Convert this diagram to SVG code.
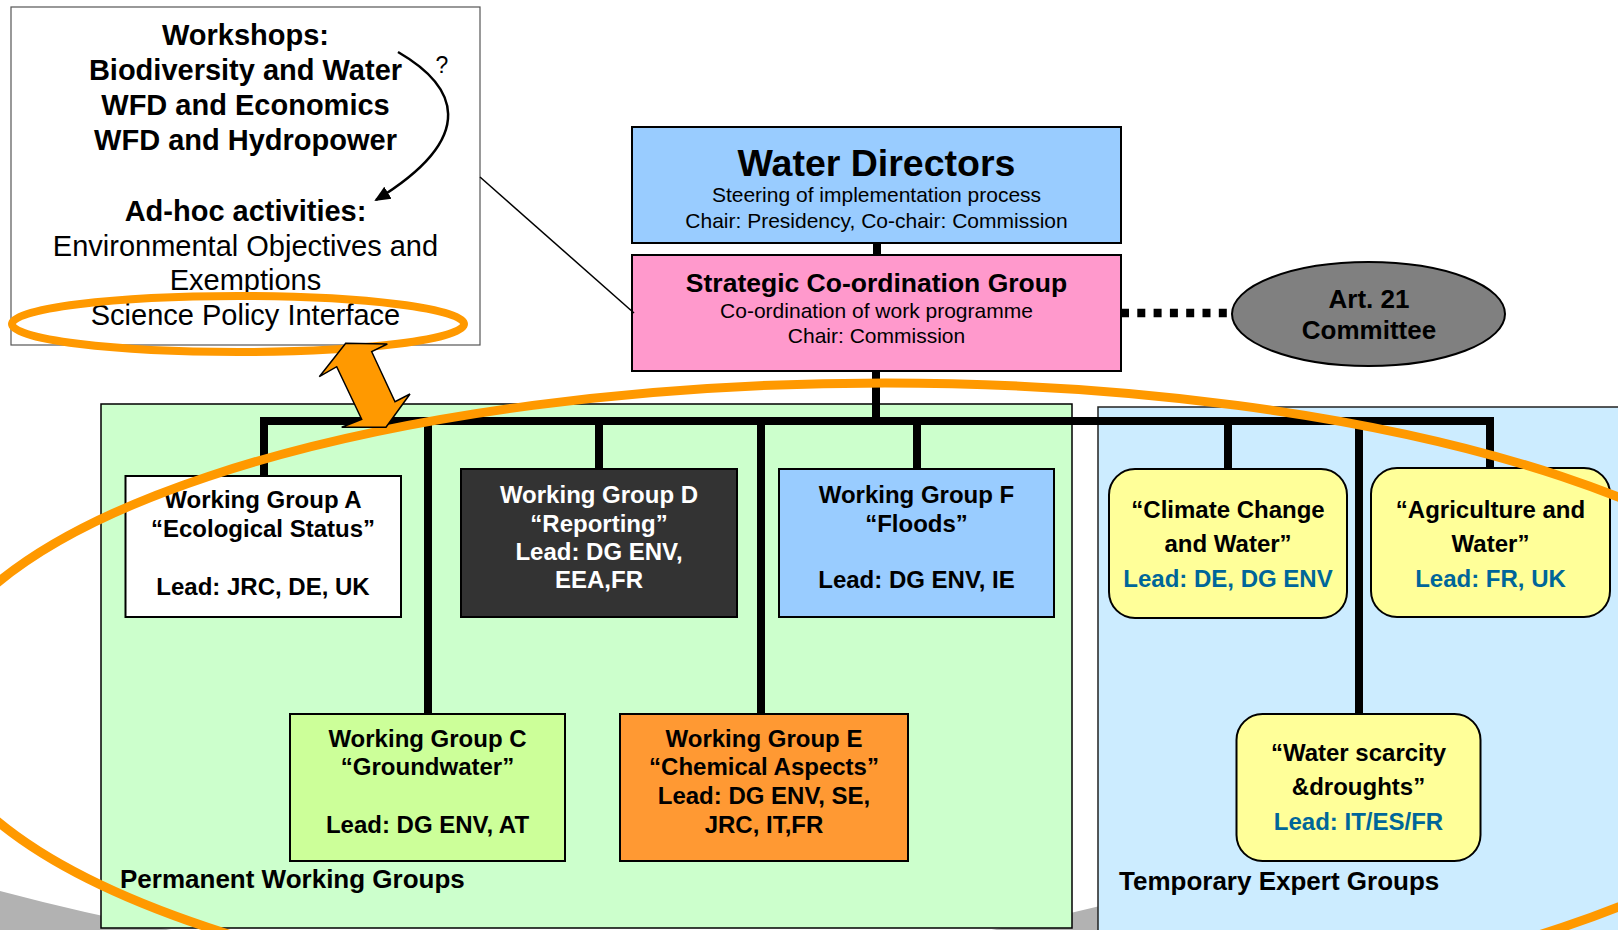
<svg xmlns="http://www.w3.org/2000/svg" width="1618" height="930" viewBox="0 0 1618 930">
<defs>
<style>
text{font-family:"Liberation Sans",Arial,sans-serif;text-anchor:middle;fill:#000}
.b{font-weight:bold}
.w29{font-size:29px}
.wg{font-size:24px;font-weight:bold}
.lead{fill:#006699}
.box{stroke:#000;stroke-width:2}
.conn{stroke:#000;stroke-width:8;fill:none}
.orange{fill:none;stroke:#FF9900}
</style>
<marker id="ah" markerWidth="16" markerHeight="16" refX="14" refY="8" orient="auto" markerUnits="userSpaceOnUse" viewBox="0 0 16 16">
<path d="M0,1 L16,8 L0,15 Z" fill="#000"/>
</marker>
</defs>
<rect width="1618" height="930" fill="#fff"/>
<path d="M0,891 Q560,1040 1100,906 L1618,880 V930 H0 Z" fill="#B2B2B2"/>

<g id="workshops">
<rect x="11" y="7" width="469" height="338" fill="#fff" stroke="#555" stroke-width="1.2"/>
<text class="w29 b" x="245.5" y="45">Workshops:</text>
<text class="w29 b" x="245.5" y="80">Biodiversity and Water</text>
<text class="w29 b" x="245.5" y="115">WFD and Economics</text>
<text class="w29 b" x="245.5" y="150">WFD and Hydropower</text>
<text class="w29 b" x="245.5" y="221">Ad-hoc activities:</text>
<text class="w29" x="245.5" y="256">Environmental Objectives and</text>
<text class="w29" x="245.5" y="290">Exemptions</text>
<text class="w29" x="245.5" y="325">Science Policy Interface</text>
<path d="M398,52 C455,85 482,135 376,200" fill="none" stroke="#000" stroke-width="2.5" marker-end="url(#ah)"/>
<text x="442" y="73" style="font-size:23px">?</text>
</g>

<g id="water-directors">
<rect class="box" x="632" y="127" width="489" height="116" fill="#99CCFF"/>
<text class="b" x="876.5" y="176" style="font-size:37.5px">Water Directors</text>
<text x="876.5" y="202" style="font-size:21px">Steering of implementation process</text>
<text x="876.5" y="228" style="font-size:21px">Chair: Presidency, Co-chair: Commission</text>
</g>

<g id="strategic-group">
<rect class="box" x="632" y="255" width="489" height="116" fill="#FF99CC"/>
<text class="b" x="876.5" y="292" style="font-size:26.5px">Strategic Co-ordination Group</text>
<text x="876.5" y="318" style="font-size:21px">Co-ordination of work programme</text>
<text x="876.5" y="343" style="font-size:21px">Chair: Commission</text>
</g>

<g id="art21">
<ellipse cx="1368.5" cy="314" rx="136.5" ry="52" fill="#808080" stroke="#000" stroke-width="2"/>
<text class="b" x="1369" y="308" style="font-size:26px">Art. 21</text>
<text class="b" x="1369" y="339" style="font-size:26px">Committee</text>
</g>

<g id="permanent-area">
<rect x="101" y="404" width="971" height="524" fill="#CCFFCC" stroke="#000" stroke-width="1.5"/>
<text class="b" x="120" y="888" style="font-size:26px;text-anchor:start">Permanent Working Groups</text>
</g>
<g id="temporary-area">
<rect x="1098" y="407" width="540" height="540" fill="#CCECFF" stroke="#222" stroke-width="1.5"/>
<text class="b" x="1119" y="890" style="font-size:26px;text-anchor:start">Temporary Expert Groups</text>
</g>

<g id="connectors">
<line x1="634" y1="313" x2="480" y2="177" stroke="#000" stroke-width="1.5"/>
<line x1="1121" y1="313" x2="1227" y2="313" stroke="#000" stroke-width="8.5" stroke-dasharray="8 8.3"/>
<line class="conn" x1="877" y1="243" x2="877" y2="255"/>
<line class="conn" x1="876" y1="371" x2="876" y2="421"/>
<polyline class="conn" points="264,476 264,421 1490,421 1490,469"/>
<line class="conn" x1="428" y1="421" x2="428" y2="714"/>
<line class="conn" x1="599" y1="421" x2="599" y2="469"/>
<line class="conn" x1="761" y1="421" x2="761" y2="714"/>
<line class="conn" x1="917" y1="421" x2="917" y2="469"/>
<line class="conn" x1="1228" y1="421" x2="1228" y2="469"/>
<line class="conn" x1="1359" y1="421" x2="1359" y2="714"/>
</g>

<g id="wg-a">
<rect class="box" x="125.5" y="476" width="275.5" height="141" fill="#fff"/>
<text class="wg" x="263" y="508">Working Group A</text>
<text class="wg" x="263" y="537">“Ecological Status”</text>
<text class="wg" x="263" y="595">Lead: JRC, DE, UK</text>
</g>
<g id="wg-d">
<rect class="box" x="461" y="469" width="276" height="148" fill="#333333"/>
<text class="wg" x="599" y="503" style="fill:#fff">Working Group D</text>
<text class="wg" x="599" y="532" style="fill:#fff">“Reporting”</text>
<text class="wg" x="599" y="560" style="fill:#fff">Lead: DG ENV,</text>
<text class="wg" x="599" y="588" style="fill:#fff">EEA,FR</text>
</g>
<g id="wg-f">
<rect class="box" x="779" y="469" width="275" height="148" fill="#99CCFF"/>
<text class="wg" x="916.5" y="503">Working Group F</text>
<text class="wg" x="916.5" y="532">“Floods”</text>
<text class="wg" x="916.5" y="588">Lead: DG ENV, IE</text>
</g>
<g id="wg-c">
<rect class="box" x="290" y="714" width="275" height="147" fill="#CCFF99"/>
<text class="wg" x="427.5" y="747">Working Group C</text>
<text class="wg" x="427.5" y="775">“Groundwater”</text>
<text class="wg" x="427.5" y="833">Lead: DG ENV, AT</text>
</g>
<g id="wg-e">
<rect class="box" x="620" y="714" width="288" height="147" fill="#FF9933"/>
<text class="wg" x="764" y="747">Working Group E</text>
<text class="wg" x="764" y="775">“Chemical Aspects”</text>
<text class="wg" x="764" y="804">Lead: DG ENV, SE,</text>
<text class="wg" x="764" y="833">JRC, IT,FR</text>
</g>
<g id="climate">
<rect class="box" x="1109" y="469" width="238" height="149" rx="26" fill="#FFFF99"/>
<text class="wg" x="1228" y="518">“Climate Change</text>
<text class="wg" x="1228" y="552">and Water”</text>
<text class="wg lead" x="1228" y="587">Lead: DE, DG ENV</text>
</g>
<g id="agriculture">
<rect class="box" x="1371" y="468" width="239" height="149" rx="26" fill="#FFFF99"/>
<text class="wg" x="1490.5" y="518">“Agriculture and</text>
<text class="wg" x="1490.5" y="552">Water”</text>
<text class="wg lead" x="1490.5" y="587">Lead: FR, UK</text>
</g>
<g id="water-scarcity">
<rect class="box" x="1236.5" y="714" width="244" height="147" rx="26" fill="#FFFF99"/>
<text class="wg" x="1358.5" y="761">“Water scarcity</text>
<text class="wg" x="1358.5" y="795">&amp;droughts”</text>
<text class="wg lead" x="1358.5" y="830">Lead: IT/ES/FR</text>
</g>

<g id="highlights">
<ellipse class="orange" cx="885" cy="702" rx="957" ry="319" stroke-width="9"/>
<ellipse class="orange" cx="238" cy="324" rx="226" ry="28" stroke-width="8"/>
<polygon points="345.7,343.3 387.3,344 371.7,351.7 395,401.7 410,394 386,427.3 341.7,427.3 361.7,419.3 336.7,366.7 319.3,376.7" fill="#FF9900" stroke="#000" stroke-width="1.5" stroke-linejoin="miter"/>
</g>
</svg>
